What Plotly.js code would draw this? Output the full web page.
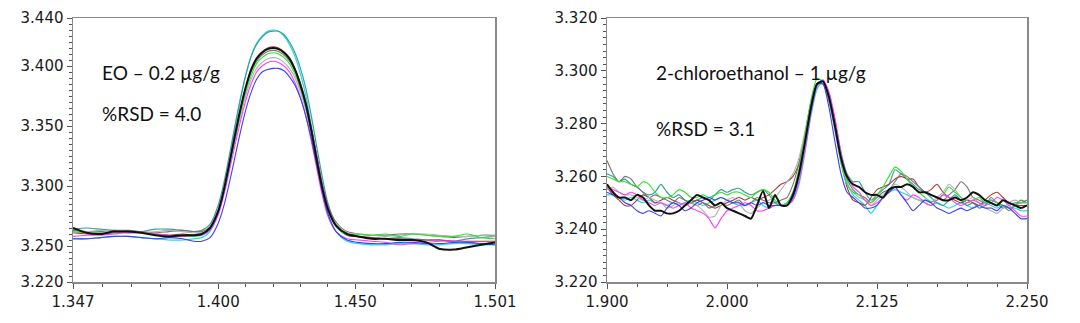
<!DOCTYPE html>
<html>
<head>
<meta charset="utf-8">
<script src="https://cdn.plot.ly/plotly-3.0.1.min.js"></script>
<style>html,body{margin:0;padding:0;background:#fff;}#chart{width:1080px;height:323px;}</style>
</head>
<body>
<div id="chart"></div>
<script>
// ---------- Left panel: EO ----------
const xLeft = [1.347,1.352,1.357,1.362,1.367,1.372,1.377,1.382,1.387,1.391,1.394,1.397,1.400,1.402,1.404,1.406,1.408,1.410,1.412,1.414,1.416,1.418,1.420,1.422,1.424,1.426,1.428,1.430,1.432,1.434,1.436,1.438,1.440,1.443,1.447,1.451,1.456,1.461,1.466,1.471,1.476,1.481,1.486,1.491,1.496,1.501];
const eoCyan = [3.256,3.256,3.257,3.258,3.258,3.257,3.256,3.255,3.255,3.256,3.257,3.262,3.278,3.297,3.321,3.347,3.371,3.392,3.408,3.419,3.425,3.429,3.430,3.429,3.425,3.418,3.408,3.393,3.375,3.350,3.323,3.297,3.277,3.262,3.254,3.252,3.251,3.251,3.252,3.252,3.251,3.251,3.252,3.252,3.251,3.251];
const eoTeal = [3.264,3.265,3.264,3.263,3.261,3.262,3.264,3.264,3.263,3.262,3.263,3.268,3.284,3.302,3.325,3.349,3.372,3.392,3.408,3.418,3.424,3.428,3.429,3.429,3.426,3.420,3.411,3.398,3.381,3.358,3.332,3.307,3.286,3.268,3.259,3.258,3.257,3.256,3.257,3.256,3.255,3.255,3.254,3.256,3.257,3.258];
const eoBrown = [3.261,3.260,3.260,3.261,3.262,3.261,3.260,3.259,3.260,3.259,3.260,3.265,3.279,3.296,3.318,3.341,3.363,3.382,3.397,3.407,3.412,3.415,3.416,3.415,3.412,3.407,3.398,3.386,3.370,3.348,3.324,3.300,3.282,3.267,3.259,3.258,3.257,3.256,3.256,3.255,3.255,3.255,3.254,3.254,3.254,3.254];
const eoGray = [3.263,3.262,3.262,3.263,3.263,3.262,3.261,3.262,3.263,3.262,3.262,3.266,3.280,3.297,3.318,3.340,3.361,3.380,3.395,3.404,3.409,3.412,3.413,3.412,3.409,3.404,3.396,3.384,3.369,3.348,3.325,3.302,3.284,3.270,3.262,3.260,3.259,3.259,3.260,3.260,3.259,3.258,3.257,3.258,3.259,3.259];
const eoLightGray = [3.261,3.262,3.263,3.262,3.261,3.261,3.262,3.263,3.262,3.261,3.261,3.265,3.279,3.295,3.316,3.337,3.357,3.375,3.389,3.398,3.403,3.406,3.407,3.406,3.403,3.398,3.390,3.378,3.363,3.343,3.320,3.298,3.281,3.268,3.261,3.260,3.259,3.258,3.259,3.260,3.260,3.259,3.258,3.258,3.259,3.258];
const eoGreen = [3.262,3.261,3.261,3.261,3.262,3.261,3.260,3.258,3.258,3.258,3.259,3.264,3.278,3.295,3.316,3.338,3.359,3.378,3.392,3.402,3.407,3.410,3.411,3.410,3.407,3.402,3.393,3.381,3.365,3.344,3.320,3.297,3.280,3.266,3.259,3.260,3.259,3.260,3.258,3.260,3.259,3.258,3.258,3.260,3.257,3.256];
const eoMagenta = [3.258,3.259,3.259,3.260,3.261,3.261,3.260,3.259,3.258,3.259,3.259,3.263,3.276,3.292,3.312,3.333,3.353,3.371,3.385,3.395,3.400,3.403,3.404,3.403,3.400,3.395,3.386,3.374,3.358,3.337,3.314,3.292,3.275,3.262,3.256,3.255,3.254,3.253,3.251,3.252,3.253,3.254,3.254,3.253,3.252,3.253];
const eoBlue = [3.256,3.256,3.257,3.258,3.258,3.257,3.256,3.257,3.256,3.254,3.254,3.257,3.269,3.283,3.302,3.323,3.344,3.363,3.378,3.389,3.395,3.397,3.398,3.398,3.396,3.391,3.384,3.373,3.358,3.339,3.317,3.295,3.277,3.262,3.255,3.253,3.252,3.252,3.253,3.253,3.252,3.252,3.253,3.253,3.252,3.251];
const eoBlack = [3.265,3.261,3.260,3.262,3.262,3.261,3.259,3.258,3.259,3.259,3.260,3.265,3.279,3.296,3.318,3.341,3.363,3.382,3.397,3.406,3.411,3.414,3.415,3.414,3.411,3.406,3.397,3.384,3.368,3.346,3.321,3.298,3.281,3.267,3.260,3.258,3.256,3.256,3.255,3.255,3.253,3.2475,3.247,3.249,3.251,3.253];

// ---------- Right panel: 2-chloroethanol ----------
const xRight = [1.900,1.905,1.910,1.915,1.920,1.925,1.930,1.935,1.940,1.945,1.950,1.955,1.960,1.965,1.970,1.975,1.980,1.985,1.990,1.995,2.000,2.005,2.010,2.015,2.020,2.025,2.030,2.035,2.040,2.045,2.050,2.055,2.060,2.065,2.070,2.075,2.080,2.085,2.090,2.095,2.100,2.105,2.110,2.115,2.120,2.125,2.130,2.135,2.140,2.145,2.150,2.155,2.160,2.165,2.170,2.175,2.180,2.185,2.190,2.195,2.200,2.205,2.210,2.215,2.220,2.225,2.230,2.235,2.240,2.245,2.250];
const ceCyan = [3.253,3.253,3.252,3.251,3.252,3.251,3.250,3.251,3.250,3.250,3.249,3.250,3.249,3.250,3.251,3.250,3.249,3.250,3.251,3.252,3.251,3.250,3.249,3.249,3.250,3.251,3.249,3.248,3.249,3.249,3.249,3.251,3.257,3.269,3.283,3.293,3.296,3.291,3.281,3.268,3.258,3.253,3.251,3.249,3.246,3.249,3.252,3.254,3.255,3.254,3.253,3.252,3.251,3.250,3.249,3.250,3.249,3.248,3.249,3.250,3.249,3.248,3.249,3.250,3.249,3.248,3.249,3.248,3.248,3.247,3.247];
const ceTeal = [3.261,3.260,3.258,3.259,3.257,3.256,3.254,3.253,3.254,3.257,3.254,3.252,3.253,3.251,3.250,3.251,3.252,3.251,3.253,3.255,3.254,3.255,3.2555,3.254,3.253,3.254,3.255,3.253,3.250,3.249,3.250,3.254,3.261,3.273,3.286,3.295,3.2965,3.291,3.281,3.269,3.261,3.258,3.258,3.254,3.251,3.253,3.255,3.257,3.2625,3.261,3.259,3.257,3.255,3.254,3.252,3.250,3.249,3.251,3.253,3.251,3.249,3.250,3.248,3.249,3.252,3.250,3.248,3.249,3.250,3.250,3.251];
const ceBrown = [3.256,3.253,3.251,3.249,3.249,3.251,3.253,3.252,3.250,3.251,3.252,3.251,3.250,3.249,3.250,3.251,3.250,3.249,3.248,3.249,3.250,3.251,3.252,3.251,3.252,3.251,3.252,3.253,3.255,3.257,3.258,3.260,3.265,3.276,3.287,3.295,3.296,3.290,3.279,3.266,3.256,3.251,3.250,3.249,3.252,3.255,3.256,3.257,3.259,3.260,3.259,3.259,3.256,3.254,3.255,3.257,3.254,3.252,3.251,3.250,3.251,3.250,3.249,3.251,3.253,3.254,3.252,3.250,3.249,3.249,3.249];
const ceGray = [3.266,3.261,3.258,3.260,3.259,3.256,3.254,3.252,3.253,3.252,3.251,3.250,3.252,3.251,3.250,3.249,3.250,3.248,3.249,3.250,3.249,3.250,3.251,3.249,3.250,3.252,3.251,3.250,3.250,3.251,3.252,3.257,3.265,3.276,3.288,3.295,3.296,3.289,3.278,3.266,3.259,3.255,3.253,3.252,3.250,3.252,3.254,3.255,3.258,3.261,3.260,3.258,3.256,3.254,3.253,3.252,3.251,3.253,3.255,3.258,3.256,3.252,3.251,3.250,3.251,3.250,3.249,3.247,3.249,3.251,3.250];
const ceLightGray = [3.255,3.256,3.254,3.253,3.253,3.252,3.251,3.252,3.251,3.250,3.248,3.249,3.250,3.249,3.250,3.249,3.247,3.2445,3.245,3.249,3.251,3.252,3.250,3.247,3.246,3.248,3.250,3.251,3.252,3.255,3.258,3.261,3.267,3.277,3.288,3.295,3.295,3.288,3.277,3.265,3.257,3.254,3.252,3.251,3.249,3.251,3.253,3.255,3.257,3.256,3.254,3.252,3.251,3.251,3.250,3.252,3.254,3.257,3.255,3.252,3.251,3.252,3.250,3.248,3.247,3.246,3.248,3.250,3.251,3.250,3.250];
const ceGreen = [3.260,3.259,3.258,3.258,3.257,3.256,3.258,3.257,3.254,3.252,3.252,3.253,3.255,3.254,3.252,3.252,3.253,3.252,3.253,3.254,3.253,3.254,3.254,3.253,3.252,3.254,3.255,3.254,3.251,3.249,3.250,3.254,3.263,3.276,3.289,3.297,3.296,3.289,3.278,3.265,3.257,3.254,3.253,3.251,3.250,3.253,3.256,3.260,3.2635,3.262,3.259,3.256,3.254,3.252,3.2505,3.251,3.253,3.256,3.254,3.252,3.250,3.251,3.252,3.250,3.251,3.250,3.249,3.248,3.249,3.250,3.250];
const ceMagenta = [3.256,3.255,3.254,3.253,3.254,3.253,3.251,3.250,3.249,3.250,3.249,3.248,3.249,3.250,3.248,3.247,3.246,3.244,3.2405,3.244,3.247,3.248,3.249,3.250,3.249,3.247,3.247,3.248,3.249,3.249,3.249,3.251,3.258,3.270,3.284,3.294,3.2965,3.292,3.282,3.269,3.260,3.256,3.254,3.251,3.249,3.250,3.252,3.254,3.256,3.253,3.251,3.253,3.252,3.250,3.249,3.251,3.253,3.252,3.250,3.249,3.250,3.251,3.250,3.249,3.250,3.252,3.251,3.249,3.247,3.245,3.245];
const ceBlue = [3.254,3.253,3.252,3.250,3.249,3.247,3.246,3.247,3.246,3.245,3.248,3.250,3.249,3.247,3.248,3.250,3.251,3.252,3.251,3.252,3.251,3.250,3.250,3.249,3.250,3.249,3.250,3.249,3.249,3.249,3.249,3.252,3.260,3.273,3.287,3.295,3.295,3.286,3.273,3.261,3.254,3.252,3.250,3.248,3.248,3.249,3.252,3.254,3.256,3.253,3.250,3.247,3.249,3.251,3.250,3.248,3.247,3.246,3.247,3.248,3.247,3.248,3.249,3.248,3.248,3.247,3.249,3.248,3.246,3.244,3.244];
const ceBlack = [3.257,3.254,3.252,3.252,3.251,3.253,3.252,3.249,3.247,3.247,3.246,3.246,3.247,3.249,3.251,3.253,3.252,3.251,3.249,3.250,3.248,3.247,3.246,3.245,3.244,3.249,3.2545,3.248,3.253,3.249,3.249,3.253,3.261,3.273,3.286,3.295,3.296,3.290,3.279,3.267,3.260,3.257,3.256,3.254,3.253,3.253,3.252,3.255,3.256,3.256,3.257,3.256,3.254,3.254,3.253,3.252,3.251,3.251,3.252,3.251,3.252,3.254,3.253,3.251,3.250,3.249,3.251,3.250,3.249,3.248,3.249];

// tick labels
const xLeftTicks = [1.347, 1.400, 1.450, 1.501];
const yLeftTicks = [3.220, 3.250, 3.300, 3.350, 3.400, 3.440];
const xRightTicks = [1.900, 2.000, 2.125, 2.250];
const yRightTicks = [3.220, 3.240, 3.260, 3.280, 3.300, 3.320];

// text
const leftTitle = "EO – 0.2 µg/g";
const leftRsd = "%RSD = 4.0";
const rightTitle = "2-chloroethanol – 1 µg/g";
const rightRsd = "%RSD = 3.1";

// styles
const styles = [
  {color:'#1fdde6', width:1.2},
  {color:'#3f9c9c', width:1.2},
  {color:'#a63a3a', width:1.1},
  {color:'#777777', width:1.1},
  {color:'#b3b3b3', width:1.1},
  {color:'#2fe22f', width:1.1},
  {color:'#ff3dff', width:1.1},
  {color:'#3d3dff', width:1.1},
  {color:'#111111', width:2}
];
const leftSeries = [eoCyan, eoTeal, eoBrown, eoGray, eoLightGray, eoGreen, eoMagenta, eoBlue, eoBlack];
const rightSeries = [ceCyan, ceTeal, ceBrown, ceGray, ceLightGray, ceGreen, ceMagenta, ceBlue, ceBlack];

const traces = [];
leftSeries.forEach((ys, i) => traces.push({
  x: xLeft, y: ys, xaxis:'x', yaxis:'y', type:'scatter', mode:'lines',
  line:{color:styles[i].color, width:styles[i].width, shape:'spline', smoothing:0.8},
  hoverinfo:'skip', showlegend:false
}));
rightSeries.forEach((ys, i) => traces.push({
  x: xRight, y: ys, xaxis:'x2', yaxis:'y2', type:'scatter', mode:'lines',
  line:{color:styles[i].color, width:styles[i].width, shape:'spline', smoothing:0.6},
  hoverinfo:'skip', showlegend:false
}));

const tickFont = {family:'"DejaVu Sans", Verdana, sans-serif', size:15, color:'#1a1a1a'};
const common = {
  showline:true, mirror:true, linecolor:'#8a8a8a', linewidth:1.5,
  ticks:'outside', ticklen:5, tickwidth:1, tickcolor:'#555',
  showgrid:false, zeroline:false, tickfont:tickFont, tickformat:'.3f',
  tickmode:'array', fixedrange:true
};
const annFont = {family:'Lato, "Noto Sans", sans-serif', size:19, color:'#111'};
const layout = {
  width:1080, height:323,
  margin:{l:0, r:0, t:0, b:0},
  paper_bgcolor:'#fff', plot_bgcolor:'#fff',
  showlegend:false,
  xaxis: Object.assign({}, common, {domain:[73/1080, 495/1080], range:[1.347,1.501], tickvals:xLeftTicks, anchor:'y',
    minor:{ticks:'outside', ticklen:3, tickcolor:'#555', tickvals:[1.3576,1.3682,1.3788,1.3894,1.41,1.42,1.43,1.44,1.4602,1.4704,1.4806,1.4908]}}),
  yaxis: Object.assign({}, common, {domain:[41/323, 305/323], range:[3.22,3.44], tickvals:yLeftTicks, anchor:'x',
    minor:{ticks:'outside', ticklen:3, tickcolor:'#555', tickmode:'linear', tick0:3.22, dtick:0.005}}),
  xaxis2: Object.assign({}, common, {domain:[607/1080, 1027/1080], range:[1.9,2.25], tickvals:xRightTicks, anchor:'y2',
    minor:{ticks:'outside', ticklen:3, tickcolor:'#555', tickmode:'linear', tick0:1.9, dtick:0.025}}),
  yaxis2: Object.assign({}, common, {domain:[41/323, 305/323], range:[3.22,3.32], tickvals:yRightTicks, anchor:'x2',
    minor:{ticks:'outside', ticklen:3, tickcolor:'#555', tickmode:'linear', tick0:3.22, dtick:0.0025}}),
  annotations: [
    {text:leftTitle, xref:'paper', yref:'paper', x:100/1080, y:(323-73)/323, xanchor:'left', yanchor:'middle', showarrow:false, font:annFont},
    {text:leftRsd, xref:'paper', yref:'paper', x:100/1080, y:(323-114)/323, xanchor:'left', yanchor:'middle', showarrow:false, font:annFont},
    {text:rightTitle, xref:'paper', yref:'paper', x:654/1080, y:(323-73)/323, xanchor:'left', yanchor:'middle', showarrow:false, font:annFont},
    {text:rightRsd, xref:'paper', yref:'paper', x:654/1080, y:(323-129)/323, xanchor:'left', yanchor:'middle', showarrow:false, font:annFont}
  ]
};
Plotly.newPlot('chart', traces, layout, {displayModeBar:false, staticPlot:true});
</script>
</body>
</html>
